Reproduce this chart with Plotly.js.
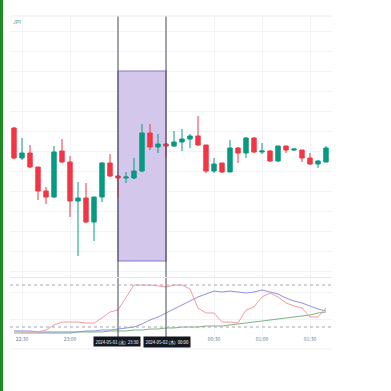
<!DOCTYPE html>
<html>
<head>
<meta charset="utf-8">
<script src="https://cdn.plot.ly/plotly-3.0.1.min.js"></script>
<style>html,body{margin:0;padding:0;background:#fff;}#chart{width:391px;height:391px;}</style>
</head>
<body>
<div id="chart"></div>
<script>
// 5-minute candles, 2024-05-01 22:25 .. 2024-05-02 01:40
const times = [
 "2024-05-01 22:25","2024-05-01 22:30","2024-05-01 22:35","2024-05-01 22:40","2024-05-01 22:45",
 "2024-05-01 22:50","2024-05-01 22:55","2024-05-01 23:00","2024-05-01 23:05","2024-05-01 23:10",
 "2024-05-01 23:15","2024-05-01 23:20","2024-05-01 23:25","2024-05-01 23:30","2024-05-01 23:35",
 "2024-05-01 23:40","2024-05-01 23:45","2024-05-01 23:50","2024-05-01 23:55","2024-05-02 00:00",
 "2024-05-02 00:05","2024-05-02 00:10","2024-05-02 00:15","2024-05-02 00:20","2024-05-02 00:25",
 "2024-05-02 00:30","2024-05-02 00:35","2024-05-02 00:40","2024-05-02 00:45","2024-05-02 00:50",
 "2024-05-02 00:55","2024-05-02 01:00","2024-05-02 01:05","2024-05-02 01:10","2024-05-02 01:15",
 "2024-05-02 01:20","2024-05-02 01:25","2024-05-02 01:30","2024-05-02 01:35","2024-05-02 01:40"
];
const open  = [157.5075,157.4325,157.445,157.410,157.350,157.335,157.450,157.4225,157.325,157.3325,
               157.2725,157.335,157.420,157.3875,157.3825,157.3825,157.400,157.495,157.460,157.4675,
               157.4625,157.4725,157.480,157.4875,157.465,157.400,157.420,157.3975,157.4575,157.445,
               157.4825,157.4475,157.450,157.425,157.4625,157.4525,157.4525,157.4325,157.4175,157.4225];
const high  = [157.510,157.4825,157.465,157.410,157.360,157.4625,157.480,157.4375,157.3725,157.370,
               157.335,157.4225,157.4425,157.390,157.3975,157.4325,157.5175,157.5175,157.4925,157.470,
               157.500,157.505,157.4925,157.5375,157.465,157.4325,157.420,157.4775,157.460,157.485,
               157.485,157.470,157.4525,157.4625,157.4625,157.455,157.4525,157.445,157.4275,157.4625];
const low   = [157.430,157.4275,157.4075,157.3275,157.3175,157.3325,157.420,157.285,157.1875,157.270,
               157.225,157.3225,157.385,157.335,157.370,157.380,157.3975,157.4525,157.445,157.4325,
               157.460,157.450,157.4575,157.4625,157.395,157.395,157.395,157.3975,157.420,157.4325,
               157.445,157.4425,157.4225,157.4225,157.445,157.450,157.4225,157.415,157.4075,157.4225];
const close = [157.4325,157.445,157.410,157.350,157.335,157.4475,157.4225,157.325,157.3325,157.2725,
               157.335,157.420,157.3875,157.3825,157.385,157.400,157.495,157.460,157.4675,157.4625,
               157.4725,157.480,157.4875,157.465,157.400,157.4175,157.3975,157.4575,157.445,157.4825,
               157.4475,157.450,157.425,157.4625,157.4525,157.455,157.4325,157.4175,157.425,157.4575];

// oscillator pane (three lines)
const oscPink  = [14.3,12.9,12.9,12.9,15.7,22.9,27.1,27.1,27.1,25.7,25.7,32.9,41.4,44.3,61.4,80,80,80,78.6,77.1,
                  80,80,74.3,47.1,40,40,27.1,27.1,25.7,44.3,48.6,62.9,68.6,62.9,54.3,50,47.1,34.3,34.3,47.1];
const oscBlue  = [14.3,14.3,14.3,12.9,12.9,12.9,12.9,12.9,12.9,14.3,14.3,15.7,15.7,17.1,18.6,20,24.3,30,34.3,40,
                  45.7,51.4,57.1,62.9,67.1,71.4,70,71.4,70,68.6,70,72.9,70,67.1,61.4,57.1,54.3,50,45.7,42.9];
const oscGreen = [11.4,11.4,11.4,11.4,11.4,11.4,11.4,11.4,12.9,12.9,12.9,12.9,14.3,14.3,14.3,15.7,15.7,17.1,17.1,18.6,
                  18.6,20,20,20,21.4,21.4,21.4,22.9,24.3,25.7,27.1,28.6,30,31.4,32.9,34.3,35.7,37.1,40,41.4];
const oscLevels = [80, 20];
const oscGrid = [31.4, 68.6];

const tickVals = ["2024-05-01 22:30","2024-05-01 23:00","2024-05-01 23:30","2024-05-02 00:00","2024-05-02 00:30","2024-05-02 01:00","2024-05-02 01:30"];
const tickText = ["22:30","23:00","","","00:30","01:00","01:30"];

const rangeStart = "2024-05-01 23:30";
const rangeEnd   = "2024-05-02 00:00";
const rangeLow = 157.175, rangeHigh = 157.65;
const rangeLabels = ["2024-05-01 (水)  23:30", "2024-05-02 (木)  00:00"];
const currencyLabel = "JPY";

const UP = "#089981", DOWN = "#f23645";

const traces = [
  {type:"candlestick", x:times, open:open, high:high, low:low, close:close,
   xaxis:"x", yaxis:"y", whiskerwidth:0, hoverinfo:"skip",
   increasing:{line:{color:UP,width:1}, fillcolor:UP},
   decreasing:{line:{color:DOWN,width:1}, fillcolor:DOWN}},
  {type:"scatter", mode:"lines", x:times, y:oscGreen, xaxis:"x", yaxis:"y2", line:{color:"#7cb47f",width:1}, hoverinfo:"skip"},
  {type:"scatter", mode:"lines", x:times, y:oscBlue, xaxis:"x", yaxis:"y2", line:{color:"#8f91e3",width:1}, hoverinfo:"skip"},
  {type:"scatter", mode:"lines", x:times, y:oscPink, xaxis:"x", yaxis:"y2", line:{color:"#f59aa5",width:1}, hoverinfo:"skip"}
];

const H = 319; // plot area height in px (16..335)
const py = p => (335 - p) / H;      // pixel y -> paper
const px = p => (p - 10) / 322;     // pixel x -> paper

const layout = {
  width:391, height:391,
  margin:{l:10, r:59, t:16, b:56, pad:0},
  paper_bgcolor:"#ffffff", plot_bgcolor:"#ffffff",
  showlegend:false,
  boxgap:0.45, boxgroupgap:0,
  font:{family:"Noto Sans CJK JP, Noto Sans, sans-serif", size:5, color:"#787b86"},
  xaxis:{type:"date", anchor:"y2", range:["2024-05-01 22:22:30","2024-05-02 01:43:45"],
         rangeslider:{visible:false}, tickmode:"array", tickvals:tickVals, ticktext:tickText,
         showgrid:true, gridcolor:"#f2f3f6", gridwidth:1, zeroline:false, showline:false,
         ticks:"", tickfont:{size:5, color:"#787b86"}, fixedrange:true},
  yaxis:{domain:[py(277), 1], range:[157.135, 157.7875], tick0:157.5, dtick:0.05,
         showticklabels:false, showgrid:true, gridcolor:"#f2f3f6", zeroline:false, ticks:"", fixedrange:true},
  yaxis2:{domain:[0, py(278)], range:[8.57, 90], tickmode:"array", tickvals:oscGrid,
          showticklabels:false, showgrid:true, gridcolor:"#f2f3f6", zeroline:false, ticks:"", fixedrange:true},
  shapes:[
    // highlighted range
    {type:"rect", xref:"x", yref:"y", x0:rangeStart, x1:rangeEnd, y0:rangeLow, y1:rangeHigh,
     fillcolor:"#d3c8ec", line:{color:"#8e72c9", width:1.2}, layer:"between"},
    {type:"line", xref:"x", yref:"paper", x0:rangeStart, x1:rangeStart, y0:py(338), y1:1, line:{color:"#4a4d57", width:1}},
    {type:"line", xref:"x", yref:"paper", x0:rangeEnd, x1:rangeEnd, y0:py(338), y1:1, line:{color:"#4a4d57", width:1}},
    // oscillator levels
    {type:"line", xref:"paper", yref:"y2", x0:0, x1:1, y0:oscLevels[0], y1:oscLevels[0], line:{color:"#a3a6af", width:1, dash:"dot"}},
    {type:"line", xref:"paper", yref:"y2", x0:0, x1:1, y0:oscLevels[1], y1:oscLevels[1], line:{color:"#a3a6af", width:1, dash:"dot"}},
    // pane borders
    {type:"line", xref:"paper", yref:"paper", x0:0, x1:1, y0:1, y1:1, line:{color:"#eceef2", width:1}},
    {type:"line", xref:"paper", yref:"paper", x0:0, x1:1, y0:py(277.5), y1:py(277.5), line:{color:"#e6e8ec", width:1}},
    {type:"line", xref:"paper", yref:"paper", x0:0, x1:1, y0:py(349), y1:py(349), line:{color:"#f0f1f4", width:1}},
    // left green edge
    {type:"line", xref:"paper", yref:"paper", x0:px(1.5), x1:px(1.5), y0:py(392), y1:py(-1), line:{color:"#1e8c22", width:3}}
  ],
  annotations:[
    {xref:"paper", yref:"paper", x:px(11), y:py(22), xanchor:"left", yanchor:"middle", showarrow:false,
     text:currencyLabel, font:{size:5, color:"#26a69a"}},
    {xref:"x", yref:"paper", x:rangeStart, y:py(341.5), xanchor:"center", yanchor:"middle", showarrow:false, xshift:-1,
     text:rangeLabels[0], bgcolor:"#131722", borderpad:1.5, font:{size:4.3, color:"#ffffff"}},
    {xref:"x", yref:"paper", x:rangeEnd, y:py(341.5), xanchor:"center", yanchor:"middle", showarrow:false, xshift:1,
     text:rangeLabels[1], bgcolor:"#131722", borderpad:1.5, font:{size:4.3, color:"#ffffff"}}
  ]
};

Plotly.newPlot("chart", traces, layout, {staticPlot:true, displayModeBar:false});
</script>
</body>
</html>
